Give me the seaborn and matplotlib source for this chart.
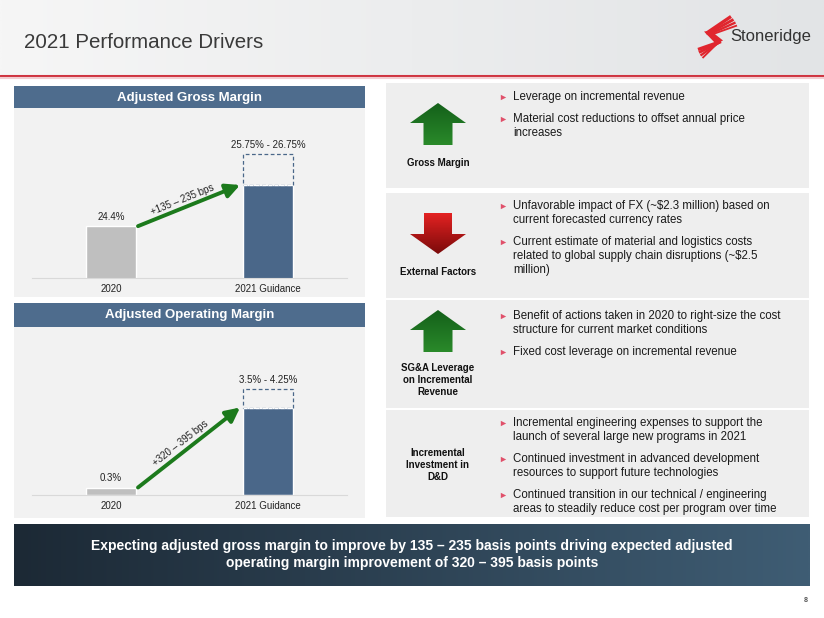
import math
import numpy as np
import matplotlib
matplotlib.use('Agg')
import matplotlib.pyplot as plt
import seaborn as sns
from matplotlib.patches import Rectangle, Polygon
from matplotlib.colors import to_rgb

# ---------------- data ----------------
categories = ['2020', '2021 Guidance']
gross_values = [24.4, 25.75]
gross_high = 26.75
gross_labels = ['24.4%', '25.75% - 26.75%']
gross_bps = '+135 – 235 bps'
op_values = [0.3, 3.5]
op_high = 4.25
op_labels = ['0.3%', '3.5% - 4.25%']
op_bps = '+320 – 395 bps'

title = '2021 Performance Drivers'
company = 'Stoneridge'
panel_titles = ['Adjusted Gross Margin', 'Adjusted Operating Margin']
driver_labels = ['Gross Margin', 'External Factors',
                 'SG&A Leverage\non Incremental\nRevenue',
                 'Incremental\nInvestment in\nD&D']
driver_direction = ['up', 'down', 'up', None]
driver_bullets = [
    ['Leverage on incremental revenue',
     'Material cost reductions to offset annual price\nincreases'],
    [r'Unfavorable impact of FX (~\$2.3 million) based on' + '\ncurrent forecasted currency rates',
     'Current estimate of material and logistics costs\n' + r'related to global supply chain disruptions (~\$2.5' + '\nmillion)'],
    ['Benefit of actions taken in 2020 to right-size the cost\nstructure for current market conditions',
     'Fixed cost leverage on incremental revenue'],
    ['Incremental engineering expenses to support the\nlaunch of several large new programs in 2021',
     'Continued investment in advanced development\nresources to support future technologies',
     'Continued transition in our technical / engineering\nareas to steadily reduce cost per program over time'],
]
summary = ('Expecting adjusted gross margin to improve by 135 – 235 basis points driving expected adjusted\n'
           'operating margin improvement of 320 – 395 basis points')
page_number = '8'

# ---------------- style ----------------
sns.set_style('white')
plt.rcParams['font.family'] = ['Liberation Sans', 'DejaVu Sans']

W, H = 824, 618
fig = plt.figure(figsize=(W / 100, H / 100), dpi=100)
fig.patch.set_facecolor('white')
bg = fig.add_axes([0, 0, 1, 1])
bg.axis('off')

BLUE = '#4a6789'
HEAD = '#4e6c8d'
GREY_BAR = '#bfbfbf'
GREEN = '#1c7a1c'
BULLET_RED = '#e0506a'


def gradient(ax, extent, c1, c2, horizontal=True, clip=None, zorder=1):
    a = np.linspace(0, 1, 256)
    c1 = np.array(to_rgb(c1)); c2 = np.array(to_rgb(c2))
    cols = c1[None, :] * (1 - a[:, None]) + c2[None, :] * a[:, None]
    img = cols[None, :, :] if horizontal else cols[:, None, :]
    im = ax.imshow(img, extent=extent, origin='upper', aspect='auto',
                   zorder=zorder, interpolation='bilinear')
    if clip is not None:
        im.set_clip_path(clip)
    return im


# header band
gradient(bg, (0, W, 75, 0), '#f6f6f6', '#e2e4e6', horizontal=True, zorder=0)
bg.plot([0, W], [75.5, 75.5], color='#cf3440', lw=2.2, zorder=2)
bg.plot([0, W], [78, 78], color='#f2cdd1', lw=1.5, zorder=2)
bg.text(24, 43, title, fontsize=14.8, color='#3a3a3a', va='center', ha='left', zorder=3)

# logo (stylised red S)
LOGO_RED = '#e0262e'
top_ends = [(731, 16.5), (733.5, 19.5), (735.5, 22.5), (737, 25.5)]
for i, (ex, ey) in enumerate(top_ends):
    bg.plot([706 + i * 1.2, ex], [33.5 + i * 0.6, ey], color=LOGO_RED, lw=2.4 - i * 0.35,
            solid_capstyle='butt', zorder=3)
bg.add_patch(Polygon([(704, 31.5), (711, 31), (723, 40.5), (716, 44)], closed=True,
                     facecolor=LOGO_RED, edgecolor='none', zorder=3))
bot_ends = [(698, 49.5), (699, 52.5), (700.5, 55.5), (702.5, 58)]
for i, (ex, ey) in enumerate(bot_ends):
    bg.plot([721 - i * 1.2, ex], [41.5 + i * 0.6, ey], color=LOGO_RED, lw=2.4 - i * 0.35,
            solid_capstyle='butt', zorder=3)
bg.text(730, 36, company, fontsize=12, color='#333333', va='center', ha='left', zorder=3)

# left panels backgrounds and headers
bg.add_patch(Rectangle((14, 86), 351, 22, facecolor=HEAD, edgecolor='none', zorder=1))
bg.add_patch(Rectangle((14, 108), 351, 189, facecolor='#f2f2f2', edgecolor='none', zorder=1))
bg.text(190, 97.5, panel_titles[0], fontsize=9.5, fontweight='bold', color='white',
        ha='center', va='center', zorder=3)
bg.add_patch(Rectangle((14, 303), 351, 24, facecolor=HEAD, edgecolor='none', zorder=1))
bg.add_patch(Rectangle((14, 327), 351, 191, facecolor='#f2f2f2', edgecolor='none', zorder=1))
bg.text(190, 315, panel_titles[1], fontsize=9.5, fontweight='bold', color='white',
        ha='center', va='center', zorder=3)

# right boxes
boxes = [(83, 105), (193, 105), (300, 108), (410, 107)]
label_y = [163, 272, 380, 465]
first_line_y = [97, 206, 316, 423]
arrow_top = [103, 213, 310, None]
for k, (y0, h) in enumerate(boxes):
    bg.add_patch(Rectangle((386, y0), 423, h, facecolor='#eeeeee', edgecolor='none', zorder=1))
    bg.text(438, label_y[k], driver_labels[k], fontsize=7, fontweight='bold', color='#111111',
            ha='center', va='center', linespacing=1.25, zorder=3)
    d = driver_direction[k]
    if d is not None:
        cx, t = 438, arrow_top[k]
        if d == 'up':
            verts = [(cx, t), (cx + 28, t + 20), (cx + 14.5, t + 20), (cx + 14.5, t + 42),
                     (cx - 14.5, t + 42), (cx - 14.5, t + 20), (cx - 28, t + 20)]
            ext = (cx - 28, cx + 28, t + 42, t)
            c1, c2 = '#14601a', '#2a8a2a'
        else:
            verts = [(cx - 14, t), (cx + 14, t), (cx + 14, t + 21), (cx + 28, t + 21),
                     (cx, t + 41), (cx - 28, t + 21), (cx - 14, t + 21)]
            ext = (cx - 28, cx + 28, t + 41, t)
            c1, c2 = '#e42222', '#7a0a0a'
        poly = Polygon(verts, closed=True, facecolor='none', edgecolor='none', zorder=2)
        bg.add_patch(poly)
        gradient(bg, ext, c1, c2, horizontal=False, clip=poly, zorder=2)
    y = first_line_y[k]
    for b in driver_bullets[k]:
        lines = b.split('\n')
        bg.scatter([503], [y], marker='>', s=15, color=BULLET_RED, zorder=3, linewidths=0)
        for ln in lines:
            bg.text(513, y, ln, fontsize=8.3, color='#1a1a1a', ha='left', va='center', zorder=3)
            y += 14
        y += 8

# bottom banner
bpoly = Rectangle((14, 524), 796, 62, facecolor='none', edgecolor='none', zorder=1)
bg.add_patch(bpoly)
gradient(bg, (14, 810, 586, 524), '#1c2935', '#3f5d74', horizontal=True, clip=bpoly, zorder=1)
for i, ln in enumerate(summary.split('\n')):
    bg.text(412, 546 + i * 16.5, ln, fontsize=10, fontweight='bold', color='white',
            ha='center', va='center', zorder=3)
bg.text(806, 601, page_number, fontsize=5, fontweight='bold', color='#555555',
        ha='center', va='center', zorder=3)

bg.set_xlim(0, W)
bg.set_ylim(H, 0)

# ---------------- bar charts ----------------
ax_g = fig.add_axes([32 / W, 1 - 278 / H, 315 / W, 170 / H])
ax_o = fig.add_axes([32 / W, 1 - 495 / H, 315 / W, 170 / H])

BW = 0.318


def bar_chart(ax, values, high, labels, bps, ylim):
    sns.barplot(x=categories, y=values, hue=categories, palette=[GREY_BAR, BLUE],
                width=BW, saturation=1, legend=False, ax=ax)
    ax.set_xlim(-0.503, 1.503)
    ax.set_ylim(*ylim)
    ax.bar([1], [high - values[1]], bottom=[values[1]], width=BW, facecolor='none',
           edgecolor=BLUE, linestyle=(0, (3, 2)), linewidth=0.9)
    ax.hlines(values[1], 1 - BW / 2, 1 + BW / 2, colors='white',
              linestyles=(0, (3, 2)), lw=0.9)
    ax.annotate(labels[0], (0, values[0]), xytext=(0, 3), textcoords='offset points',
                ha='center', va='bottom', fontsize=7, color='#222222')
    ax.annotate(labels[1], (1, high), xytext=(0, 3), textcoords='offset points',
                ha='center', va='bottom', fontsize=7, color='#222222')
    x0, x1 = 0.172, 0.822
    ax.annotate('', xy=(x1, values[1]), xytext=(x0, values[0]),
                arrowprops=dict(arrowstyle='-|>,head_length=0.7,head_width=0.35',
                                lw=2.8, color=GREEN, shrinkA=0, shrinkB=0,
                                mutation_scale=12))
    p0 = ax.transData.transform((x0, values[0]))
    p1 = ax.transData.transform((x1, values[1]))
    ang = math.atan2(p1[1] - p0[1], p1[0] - p0[0])
    along, perp = -3.0, 6.0
    off = (along * math.cos(ang) - perp * math.sin(ang),
           along * math.sin(ang) + perp * math.cos(ang))
    ax.annotate(bps, ((x0 + x1) / 2, (values[0] + values[1]) / 2), xytext=off,
                textcoords='offset points', rotation=math.degrees(ang),
                rotation_mode='anchor', ha='center', va='center', fontsize=7,
                color='#222222')
    ax.set_facecolor('none')
    for s in ['top', 'right', 'left']:
        ax.spines[s].set_visible(False)
    ax.spines['bottom'].set_color('#d9d9d9')
    ax.spines['bottom'].set_linewidth(0.8)
    ax.set_yticks([])
    ax.tick_params(axis='x', length=0, pad=4, labelsize=7, labelcolor='#222222')
    ax.set_xlabel('')
    ax.set_ylabel('')


bar_chart(ax_g, gross_values, gross_high, gross_labels, gross_bps, (22.7, 22.7 + 170 / 30.5))
bar_chart(ax_o, op_values, op_high, op_labels, op_bps, (0, 6.8))

fig.savefig('out.png', dpi=100)
